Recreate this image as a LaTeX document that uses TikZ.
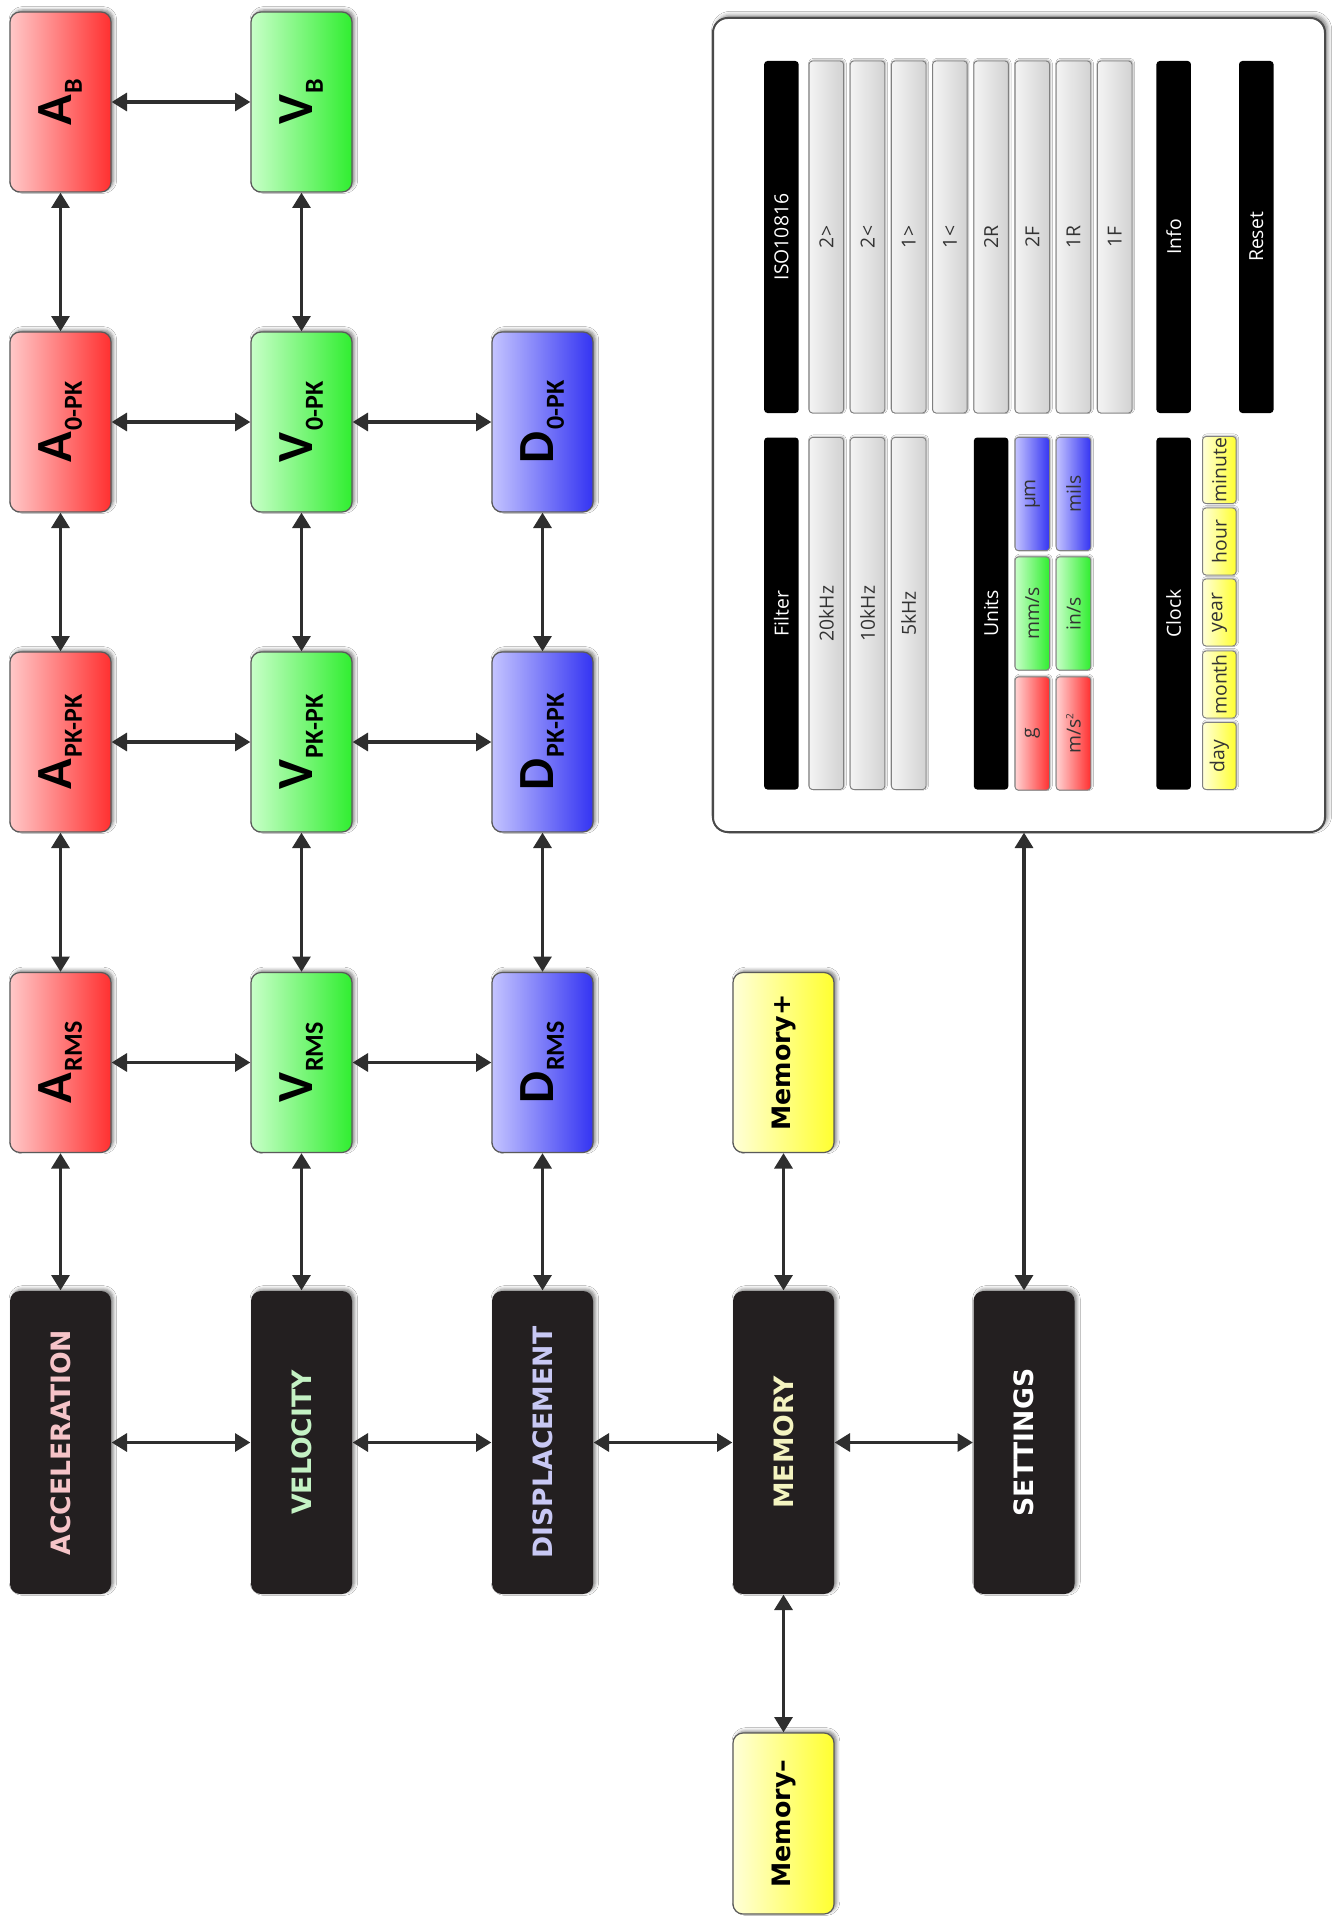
\documentclass[tikz,border=0pt]{standalone}
\usepackage{fontspec}
\usepackage{graphicx}
\usetikzlibrary{arrows.meta,shadows.blur}
\newfontfamily\dvs{DejaVu Sans}
\newfontfamily\carl{Carlito}
\newfontfamily\opens{Open Sans}
\definecolor{redL}{HTML}{FFC8C8}
\definecolor{redR}{HTML}{FF3030}
\definecolor{grnL}{HTML}{C8FFC8}
\definecolor{grnR}{HTML}{30EE30}
\definecolor{bluL}{HTML}{C4C4FF}
\definecolor{bluR}{HTML}{3434F2}
\definecolor{yelL}{HTML}{FFFFD8}
\definecolor{yelR}{HTML}{FFFF30}
\definecolor{gL}{HTML}{F4F4F4}
\definecolor{gR}{HTML}{D2D2D2}
\definecolor{gline}{HTML}{808080}
\definecolor{boxline}{HTML}{5A5A5A}
\definecolor{boxblack}{HTML}{231F20}
\definecolor{arrowc}{HTML}{2E2E2E}
\definecolor{panelline}{HTML}{4A4A4A}
\definecolor{txtdark}{HTML}{333333}
\definecolor{accT}{HTML}{F6C4C8}
\definecolor{velT}{HTML}{C4F2C4}
\definecolor{disT}{HTML}{C8C8F4}
\definecolor{memT}{HTML}{F4F4C0}
\newcommand\qlab[2]{\rotatebox{90}{\carl\bfseries{\fontsize{38pt}{38pt}\selectfont #1}\kern1pt\raisebox{-7.5pt}{\fontsize{19.5pt}{19.5pt}\selectfont #2}}}
\newcommand\rt[1]{\rotatebox{90}{#1}}
\tikzset{
  shd/.style={blur shadow={shadow xshift=1.8pt, shadow yshift=1.5pt, shadow blur radius=2.5pt, shadow opacity=50}},
  cbox/.style={draw=boxline, line width=0.9pt, rounded corners=7.5pt, minimum width=75.75pt, minimum height=135pt, inner sep=0pt, outer sep=0.5pt, shd},
  redbox/.style={cbox, left color=redL, right color=redR},
  grnbox/.style={cbox, left color=grnL, right color=grnR},
  blubox/.style={cbox, left color=bluL, right color=bluR},
  yelbox/.style={cbox, left color=yelL, right color=yelR, font=\dvs\bfseries\fontsize{19pt}{19pt}\selectfont, text=black},
  kbox/.style={fill=boxblack, rounded corners=7.5pt, minimum width=75.75pt, minimum height=227.25pt, inner sep=0pt, outer sep=0.5pt, shd, font=\dvs\bfseries\fontsize{20pt}{20pt}\selectfont},
  panel/.style={draw=panelline, line width=1.5pt, fill=white, rounded corners=11pt, minimum width=459pt, minimum height=610.5pt, inner sep=0pt, outer sep=0.5pt, blur shadow={shadow xshift=2pt, shadow yshift=2pt, shadow blur radius=3pt, shadow opacity=50}},
  bar/.style={rounded corners=2.5pt, minimum width=25.9pt, inner sep=0pt, font=\opens\fontsize{14.5pt}{14.5pt}\selectfont},
  kbar/.style={bar, fill=black, text=white},
  cbar/.style={bar, draw=gline, line width=0.7pt, text=txtdark, blur shadow={shadow xshift=0.8pt, shadow yshift=0.8pt, shadow blur radius=1.2pt, shadow opacity=30}},
  gbar/.style={cbar, left color=gL, right color=gR},
  rbar/.style={cbar, left color=redL!80!white, right color=redR},
  grbar/.style={cbar, left color=grnL, right color=grnR},
  bbar/.style={cbar, left color=bluL, right color=bluR},
  ybar/.style={cbar, left color=yelL, right color=yelR, minimum width=25.1pt},
  tall/.style={minimum height=264pt},
  unit/.style={minimum height=85pt},
  clk/.style={minimum height=50.25pt},
  dbl/.style={{Triangle[length=11.5pt,width=13.5pt]}-{Triangle[length=11.5pt,width=13.5pt]}, line width=2.4pt, draw=arrowc}
}
\begin{document}
\begin{tikzpicture}[x=0.75pt,y=-0.75pt]
\useasboundingbox (0,0) rectangle (1342,1919);
\fill[white] (0,0) rectangle (1342,1919);
% measurement boxes
\node[redbox] (AB)  at (60.5,102)   {\qlab{A}{B}};
\node[redbox] (A0)  at (60.5,422)   {\qlab{A}{0-PK}};
\node[redbox] (APP) at (60.5,742)   {\qlab{A}{PK-PK}};
\node[redbox] (AR)  at (60.5,1062.5) {\qlab{A}{RMS}};
\node[grnbox] (VB)  at (301.5,102)  {\qlab{V}{B}};
\node[grnbox] (V0)  at (301.5,422)  {\qlab{V}{0-PK}};
\node[grnbox] (VPP) at (301.5,742)  {\qlab{V}{PK-PK}};
\node[grnbox] (VR)  at (301.5,1062.5) {\qlab{V}{RMS}};
\node[blubox] (D0)  at (542.5,422)  {\qlab{D}{0-PK}};
\node[blubox] (DPP) at (542.5,742)  {\qlab{D}{PK-PK}};
\node[blubox] (DR)  at (542.5,1062.5) {\qlab{D}{RMS}};
\node[yelbox] (memp) at (783.5,1062.5) {\rt{Memory+}};
\node[yelbox, minimum height=135.75pt] (memm) at (783.5,1823.5) {\rt{Memory–}};
% main menu
\node[kbox, text=accT] (acc)  at (60.5,1442.5)  {\rt{ACCELERATION}};
\node[kbox, text=velT] (vel)  at (301.5,1442.5) {\rt{VELOCITY}};
\node[kbox, text=disT] (disp) at (542.5,1442.5) {\rt{DISPLACEMENT}};
\node[kbox, text=memT] (mem)  at (783.5,1442.5) {\rt{MEMORY}};
\node[kbox, text=white] (set) at (1024,1442.5)  {\rt{SETTINGS}};
% settings panel
\node[panel] (panel) at (1019,425) {};
\node[kbar, tall] (iso) at (781.4,237) {\rt{ISO10816}};
\node[gbar, tall] (t1) at (826.3,237) {\rt{2>}};
\node[gbar, tall] (t2) at (867.5,237) {\rt{2<}};
\node[gbar, tall] (t3) at (908.7,237) {\rt{1>}};
\node[gbar, tall] (t4) at (949.9,237) {\rt{1<}};
\node[gbar, tall] (t5) at (991.1,237) {\rt{2R}};
\node[gbar, tall] (t6) at (1032.3,237) {\rt{2F}};
\node[gbar, tall] (t7) at (1073.5,237) {\rt{1R}};
\node[gbar, tall] (t8) at (1114.7,237) {\rt{1F}};
\node[kbar, tall] (info) at (1173.7,237) {\rt{Info}};
\node[kbar, tall] (reset) at (1256.3,237) {\rt{Reset}};
\node[kbar, tall] (filter) at (781.4,613.5) {\rt{Filter}};
\node[gbar, tall] (f1) at (826.3,613.5) {\rt{20kHz}};
\node[gbar, tall] (f2) at (867.5,613.5) {\rt{10kHz}};
\node[gbar, tall] (f3) at (908.7,613.5) {\rt{5kHz}};
\node[kbar, tall] (units) at (991.1,613.5) {\rt{Units}};
\node[bbar, unit] (uum) at (1032.3,494) {\rt{µm}};
\node[grbar, unit] (umms) at (1032.3,613.5) {\rt{mm/s}};
\node[rbar, unit] (ug) at (1032.3,733.5) {\rt{g}};
\node[bbar, unit] (umils) at (1073.5,494) {\rt{mils}};
\node[grbar, unit] (uins) at (1073.5,613.5) {\rt{in/s}};
\node[rbar, unit] (ums) at (1073.5,733.5) {\rt{m/s\raisebox{5.5pt}{\fontsize{7.5pt}{7.5pt}\selectfont 2}}};
\node[kbar, tall] (clock) at (1173.7,613.5) {\rt{Clock}};
\node[ybar, clk] (cmin) at (1219.3,470) {\rt{minute}};
\node[ybar, clk] (chour) at (1219.3,541.5) {\rt{hour}};
\node[ybar, clk] (cyear) at (1219.3,612.5) {\rt{year}};
\node[ybar, clk] (cmonth) at (1219.3,684.5) {\rt{month}};
\node[ybar, clk] (cday) at (1219.3,756) {\rt{day}};
% connectors
\draw[dbl] (AB) -- (VB);
\draw[dbl] (AB) -- (A0);
\draw[dbl] (VB) -- (V0);
\draw[dbl] (A0) -- (V0);
\draw[dbl] (V0) -- (D0);
\draw[dbl] (A0) -- (APP);
\draw[dbl] (V0) -- (VPP);
\draw[dbl] (D0) -- (DPP);
\draw[dbl] (APP) -- (VPP);
\draw[dbl] (VPP) -- (DPP);
\draw[dbl] (APP) -- (AR);
\draw[dbl] (VPP) -- (VR);
\draw[dbl] (DPP) -- (DR);
\draw[dbl] (AR) -- (VR);
\draw[dbl] (VR) -- (DR);
\draw[dbl] (AR) -- (acc);
\draw[dbl] (VR) -- (vel);
\draw[dbl] (DR) -- (disp);
\draw[dbl] (memp) -- (mem);
\draw[dbl] (mem) -- (memm);
\draw[dbl] (acc) -- (vel);
\draw[dbl] (vel) -- (disp);
\draw[dbl] (disp) -- (mem);
\draw[dbl] (mem) -- (set);
\draw[dbl] (set) -- (set |- panel.south);
\end{tikzpicture}
\end{document}
